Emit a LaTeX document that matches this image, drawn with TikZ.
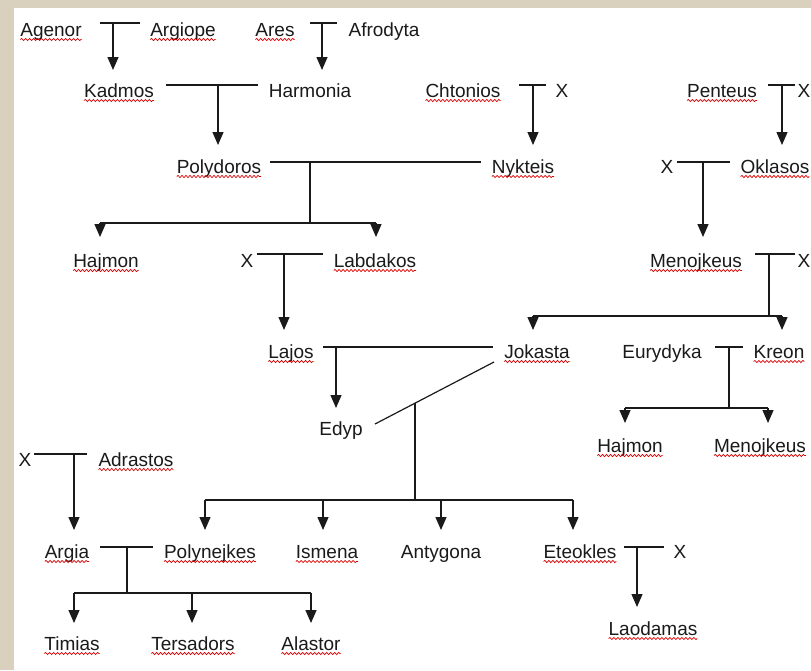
\documentclass[tikz,border=0pt]{standalone}
\usepackage{fontspec}
\setmainfont{Liberation Sans}
\usetikzlibrary{arrows.meta,decorations.pathmorphing}
\definecolor{beige}{HTML}{D9D0BD}
\definecolor{ink}{HTML}{1A1A1A}
\tikzset{
  nm/.style={anchor=base,inner sep=0pt,outer sep=0pt,text=ink,font=\fontsize{19}{22}\selectfont},
  ln/.style={draw=ink,line width=1.2pt},
  arr/.style={ln,-{Triangle[width=11pt,length=13pt]}},
  wavy/.style={draw=red!85!black,line width=0.7pt,decorate,decoration={snake,amplitude=1.1pt,segment length=4pt}}
}
\begin{document}
\begin{tikzpicture}[x=1pt,y=-1pt]
\useasboundingbox (0,0) rectangle (811,670);
\clip (0,0) rectangle (811,670);
\fill[beige] (0,0) rectangle (811,670);
\fill[white] (14,8) rectangle (811,670);
% names
\node[nm] (agenor) at (51,36) {Agenor};
\node[nm] (argiope) at (183,36) {Argiope};
\node[nm] (ares) at (275,36) {Ares};
\node[nm] (afrodyta) at (384,36) {Afrodyta};
\node[nm] (kadmos) at (119,97) {Kadmos};
\node[nm] (harmonia) at (310,97) {Harmonia};
\node[nm] (chtonios) at (463,97) {Chtonios};
\node[nm] (xa) at (562,97) {X};
\node[nm] (penteus) at (722,97) {Penteus};
\node[nm] (xb) at (804,97) {X};
\node[nm] (polydoros) at (219,173) {Polydoros};
\node[nm] (nykteis) at (523,173) {Nykteis};
\node[nm] (xc) at (667,173) {X};
\node[nm] (oklasos) at (775,173) {Oklasos};
\node[nm] (hajmona) at (106,267) {Hajmon};
\node[nm] (xd) at (247,267) {X};
\node[nm] (labdakos) at (375,267) {Labdakos};
\node[nm] (menojkeusa) at (696,267) {Menojkeus};
\node[nm] (xe) at (804,267) {X};
\node[nm] (lajos) at (291,358) {Lajos};
\node[nm] (jokasta) at (537,358) {Jokasta};
\node[nm] (eurydyka) at (662,358) {Eurydyka};
\node[nm] (kreon) at (779,358) {Kreon};
\node[nm] (edyp) at (341,435) {Edyp};
\node[nm] (hajmonb) at (630,452) {Hajmon};
\node[nm] (menojkeusb) at (760,452) {Menojkeus};
\node[nm] (xf) at (25,466) {X};
\node[nm] (adrastos) at (136,466) {Adrastos};
\node[nm] (argia) at (67,558) {Argia};
\node[nm] (polynejkes) at (210,558) {Polynejkes};
\node[nm] (ismena) at (327,558) {Ismena};
\node[nm] (antygona) at (441,558) {Antygona};
\node[nm] (eteokles) at (580,558) {Eteokles};
\node[nm] (xg) at (680,558) {X};
\node[nm] (laodamas) at (653,635) {Laodamas};
\node[nm] (timias) at (72,650) {Timias};
\node[nm] (tersadors) at (193,650) {Tersadors};
\node[nm] (alastor) at (311,650) {Alastor};
% spelling underlines
\foreach \n in {agenor,argiope,ares,kadmos,chtonios,penteus,polydoros,nykteis,oklasos,hajmona,labdakos,menojkeusa,lajos,jokasta,kreon,hajmonb,menojkeusb,adrastos,argia,polynejkes,ismena,eteokles,laodamas,timias,tersadors,alastor}
  \draw[wavy] ([yshift=-3.5pt]\n.base west) -- ([yshift=-3.5pt]\n.base east);
% junction coordinates
\coordinate (c1a) at (100,23); \coordinate (c1b) at (140,23); \coordinate (c1m) at (113,23); \coordinate (t1) at (113,70);
\coordinate (c2a) at (310,23); \coordinate (c2b) at (337,23); \coordinate (c2m) at (322,23); \coordinate (t2) at (322,70);
\coordinate (c3a) at (166,85); \coordinate (c3b) at (258,85); \coordinate (c3m) at (218,85); \coordinate (t3) at (218,145);
\coordinate (c4a) at (519,85); \coordinate (c4b) at (546,85); \coordinate (c4m) at (533,85); \coordinate (t4) at (533,145);
\coordinate (c5a) at (768,85); \coordinate (c5b) at (795,85); \coordinate (c5m) at (782,85); \coordinate (t5) at (782,145);
\coordinate (c6a) at (270,162); \coordinate (c6b) at (481,162); \coordinate (c6m) at (310,162); \coordinate (c6d) at (310,223);
\coordinate (c6l) at (100,223); \coordinate (c6r) at (376,223); \coordinate (t6l) at (100,237); \coordinate (t6r) at (376,237);
\coordinate (c7a) at (677,162); \coordinate (c7b) at (730,162); \coordinate (c7m) at (703,162); \coordinate (t7) at (703,237);
\coordinate (c8a) at (257,254); \coordinate (c8b) at (323,254); \coordinate (c8m) at (284,254); \coordinate (t8) at (284,330);
\coordinate (c9a) at (755,254); \coordinate (c9b) at (795,254); \coordinate (c9m) at (769,254); \coordinate (c9d) at (769,316);
\coordinate (c9l) at (533,316); \coordinate (c9r) at (782,316); \coordinate (t9l) at (533,330); \coordinate (t9r) at (782,330);
\coordinate (c10a) at (323,347); \coordinate (c10b) at (493,347); \coordinate (c10m) at (336,347); \coordinate (t10) at (336,408);
\coordinate (c11a) at (715,347); \coordinate (c11b) at (743,347); \coordinate (c11m) at (729,347); \coordinate (c11d) at (729,408);
\coordinate (c11l) at (625,408); \coordinate (c11r) at (768,408); \coordinate (t11l) at (625,423); \coordinate (t11r) at (768,423);
\coordinate (dg1) at (494,362); \coordinate (dg2) at (375,424); \coordinate (c12m) at (415,403); \coordinate (c12d) at (415,500);
\coordinate (c12l) at (205,500); \coordinate (c12r) at (573,500);
\coordinate (c12i) at (323,500); \coordinate (c12j) at (441,500);
\coordinate (t12a) at (205,530); \coordinate (t12b) at (323,530); \coordinate (t12c) at (441,530); \coordinate (t12d) at (573,530);
\coordinate (c13a) at (34,454); \coordinate (c13b) at (87,454); \coordinate (c13m) at (74,454); \coordinate (t13) at (74,530);
\coordinate (c14a) at (100,547); \coordinate (c14b) at (153,547); \coordinate (c14m) at (127,547); \coordinate (c14d) at (127,593);
\coordinate (c14l) at (74,593); \coordinate (c14c) at (192,593); \coordinate (c14r) at (311,593);
\coordinate (t14a) at (74,623); \coordinate (t14b) at (192,623); \coordinate (t14c) at (311,623);
\coordinate (c15a) at (624,547); \coordinate (c15b) at (664,547); \coordinate (c15m) at (637,547); \coordinate (t15) at (637,607);
% connectors
\draw[ln] (c1a) -- (c1b); \draw[arr] (c1m) -- (t1);
\draw[ln] (c2a) -- (c2b); \draw[arr] (c2m) -- (t2);
\draw[ln] (c3a) -- (c3b); \draw[arr] (c3m) -- (t3);
\draw[ln] (c4a) -- (c4b); \draw[arr] (c4m) -- (t4);
\draw[ln] (c5a) -- (c5b); \draw[arr] (c5m) -- (t5);
\draw[ln] (c6a) -- (c6b); \draw[ln] (c6m) -- (c6d); \draw[ln] (c6l) -- (c6r);
\draw[arr] (c6l) -- (t6l); \draw[arr] (c6r) -- (t6r);
\draw[ln] (c7a) -- (c7b); \draw[arr] (c7m) -- (t7);
\draw[ln] (c8a) -- (c8b); \draw[arr] (c8m) -- (t8);
\draw[ln] (c9a) -- (c9b); \draw[ln] (c9m) -- (c9d); \draw[ln] (c9l) -- (c9r);
\draw[arr] (c9l) -- (t9l); \draw[arr] (c9r) -- (t9r);
\draw[ln] (c10a) -- (c10b); \draw[arr] (c10m) -- (t10);
\draw[ln] (c11a) -- (c11b); \draw[ln] (c11m) -- (c11d); \draw[ln] (c11l) -- (c11r);
\draw[arr] (c11l) -- (t11l); \draw[arr] (c11r) -- (t11r);
\draw[ln] (dg1) -- (dg2); \draw[ln] (c12m) -- (c12d); \draw[ln] (c12l) -- (c12r);
\draw[arr] (c12l) -- (t12a); \draw[arr] (c12i) -- (t12b); \draw[arr] (c12j) -- (t12c); \draw[arr] (c12r) -- (t12d);
\draw[ln] (c13a) -- (c13b); \draw[arr] (c13m) -- (t13);
\draw[ln] (c14a) -- (c14b); \draw[ln] (c14m) -- (c14d); \draw[ln] (c14l) -- (c14r);
\draw[arr] (c14l) -- (t14a); \draw[arr] (c14c) -- (t14b); \draw[arr] (c14r) -- (t14c);
\draw[ln] (c15a) -- (c15b); \draw[arr] (c15m) -- (t15);
\end{tikzpicture}
\end{document}
